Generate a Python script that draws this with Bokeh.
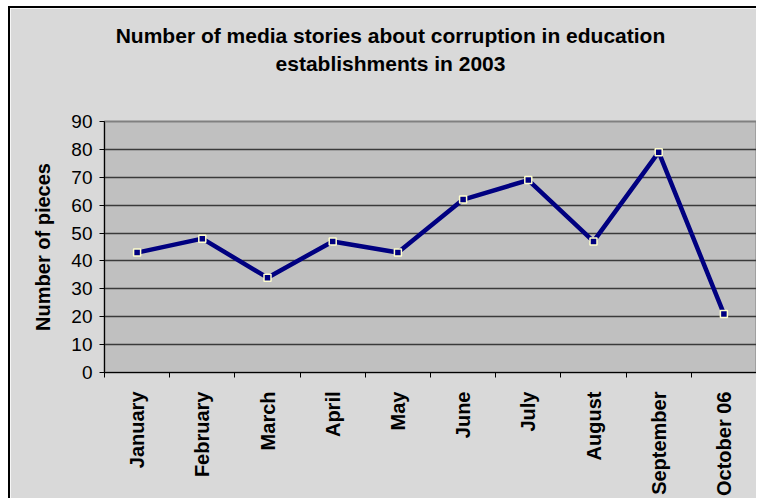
import math
from bokeh.plotting import figure
from bokeh.models import FixedTicker, Range1d, Title
from bokeh.embed import file_html
from bokeh.resources import INLINE

# ---- data ----
months = ["January", "February", "March", "April", "May", "June",
          "July", "August", "September", "October 06"]
stories = [43, 48, 34, 47, 43, 62, 69, 47, 79, 21]
y_ticks = [0, 10, 20, 30, 40, 50, 60, 70, 80, 90]
title_lines = ["Number of media stories about corruption in education",
               "establishments in 2003"]
y_label = "Number of pieces"

FONT = "Liberation Sans"

xs = [i + 0.5 for i in range(len(months))]
boundaries = list(range(len(months) + 1))

p = figure(width=748, height=492,
           x_range=Range1d(0, len(months)), y_range=Range1d(0, 90),
           output_backend="svg", toolbar_location=None,
           min_border_left=94, min_border_top=113,
           min_border_right=2, min_border_bottom=128)
p.styles = {"margin-left": "8px", "margin-top": "6px",
            "border-left": "2px solid black", "border-top": "2px solid black"}

p.border_fill_color = "#d9d9d9"
p.background_fill_color = "#c0c0c0"
p.outline_line_color = "#808080"
p.outline_line_width = 2

# grid
p.xgrid.grid_line_color = None
p.ygrid.ticker = FixedTicker(ticks=y_ticks)
p.ygrid.grid_line_color = "#3a3a3a"
p.ygrid.grid_line_width = 1.5

# y axis
p.yaxis.ticker = FixedTicker(ticks=y_ticks)
p.yaxis.major_tick_out = 5
p.yaxis.major_tick_in = 0
p.yaxis.minor_tick_line_color = None
p.yaxis.axis_line_color = "black"
p.yaxis.major_tick_line_color = "black"
p.yaxis.major_label_text_font = FONT
p.yaxis.major_label_text_font_size = "19px"
p.yaxis.major_label_text_color = "black"
p.yaxis.major_label_standoff = 7
p.yaxis.axis_label = y_label
p.yaxis.axis_label_text_font = FONT
p.yaxis.axis_label_text_font_size = "20px"
p.yaxis.axis_label_text_font_style = "bold"
p.yaxis.axis_label_text_color = "black"
p.yaxis.axis_label_standoff = 14

# x axis: labels at category centres, ticks at category boundaries
p.xaxis.ticker = FixedTicker(ticks=xs, minor_ticks=boundaries)
p.xaxis.major_label_overrides = {x: m for x, m in zip(xs, months)}
p.xaxis.major_tick_out = 0
p.xaxis.major_tick_in = 0
p.xaxis.minor_tick_out = 5
p.xaxis.minor_tick_in = 0
p.xaxis.minor_tick_line_color = "black"
p.xaxis.axis_line_color = "black"
p.xaxis.major_label_orientation = math.pi / 2
p.xaxis.major_label_text_font = FONT
p.xaxis.major_label_text_font_size = "20px"
p.xaxis.major_label_text_font_style = "bold"
p.xaxis.major_label_text_color = "black"
p.xaxis.major_label_standoff = 14

# series
p.line(xs, stories, line_color="#000080", line_width=4.5)
p.scatter(xs, stories, marker="square", size=7,
          fill_color="#000080", line_color="#ffffcc", line_width=1.5)

# title: two lines centred at ~390px of the window (not on the frame)
# approximate Arial-Bold advance widths to left-align each line to that centre
ADV = {" ": .278, "0": .556, "2": .556, "3": .556, "N": .722, "a": .556,
       "b": .611, "c": .556, "d": .611, "e": .556, "f": .333, "h": .611,
       "i": .278, "l": .278, "m": .889, "n": .611, "o": .611, "p": .611,
       "r": .389, "s": .556, "t": .333, "u": .611}
TITLE_PX = 21
FRAME_LEFT = 104   # window x of the frame's left edge
TITLE_CENTRE = 390  # window x of the title's centre


def offset_for(line):
    w = sum(ADV.get(ch, .556) for ch in line) * TITLE_PX
    return TITLE_CENTRE - w / 2 - FRAME_LEFT


# spacer between title and frame (closest to the frame is added first)
p.add_layout(Title(text=" ", text_font_size="39px", standoff=0,
                   text_font=FONT), "above")
for line in reversed(title_lines):
    p.add_layout(Title(text=line, align="left", offset=offset_for(line),
                       text_font=FONT, text_font_size=f"{TITLE_PX}px",
                       text_font_style="bold", text_color="black",
                       standoff=3), "above")

open("out.html", "w").write(file_html(p, INLINE))
